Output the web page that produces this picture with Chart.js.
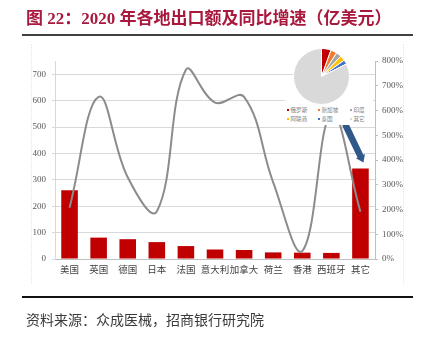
<!DOCTYPE html>
<html>
<head>
<meta charset="utf-8">
<script src="https://cdn.jsdelivr.net/npm/chart.js@4/dist/chart.umd.min.js"></script>
<style>
  html, body { margin: 0; padding: 0; background: #fff; }
  #wrap { position: relative; width: 424px; height: 337px; overflow: hidden; background: #fff; }
  #main { position: absolute; left: 0; top: 0; }
  #title { position: absolute; left: 26px; top: 4px; font: bold 17px "Liberation Serif", "Noto Sans CJK SC", serif; color: #A8193D; white-space: nowrap; letter-spacing: 0px; }
  .rule { position: absolute; left: 22px; width: 391px; height: 2px; }
  #src { position: absolute; left: 26px; top: 309px; font: 14px "Noto Sans CJK SC", sans-serif; color: #3a3a3a; white-space: nowrap; }
  #pieBox { position: absolute; left: 285px; top: 92px; width: 88px; height: 33px; background: #fff; }
  #pie { position: absolute; left: 293px; top: 48px; }
  .lg { position: absolute; font: 5.6px "Noto Sans CJK SC", sans-serif; color: #7f7f7f; white-space: nowrap; line-height: 7px; }
  .lg i { display: inline-block; width: 2px; height: 2px; margin-right: 1.5px; vertical-align: middle; }
  .dots { position: absolute; top: 44px; height: 240px; width: 0; border-left: 1px dotted #e6e6e6; }
</style>
</head>
<body>
<div id="wrap">
  <canvas id="main" width="424" height="337"></canvas>
  <div class="dots" style="left:31px"></div>
  <div class="dots" style="left:403px"></div>
  <div id="title">图 22：2020 年各地出口额及同比增速（亿美元）</div>
  <div class="rule" style="top:34px;background:#404040;"></div>
  <div class="rule" style="top:296px;background:#111;"></div>
  <div id="src">资料来源：众成医械，招商银行研究院</div>
  <div id="pieBox"></div>
  <canvas id="pie" width="57" height="57"></canvas>
  <div id="legend"></div>
</div>
<script>
// ---- data ----
const categories = ['美国','英国','德国','日本','法国','意大利','加拿大','荷兰','香港','西班牙','其它'];
const exportValues = [260, 81, 75, 64, 49, 36, 34, 25, 24, 23, 343];   // 亿美元
const growthPct = [207, 655, 330, 192, 765, 632, 655, 310, 32, 588, 191]; // 同比增速 %
const leftTicks = [0, 100, 200, 300, 400, 500, 600, 700];
const rightTicks = [0, 100, 200, 300, 400, 500, 600, 700, 800];
const pieLabels = ['俄罗斯','新加坡','印度','阿联酋','泰国','其它'];
const pieValues = [5.5, 3.6, 3.0, 3.0, 2.5, 82.4];
const pieColors = ['#C00000','#ED7D31','#A5A5A5','#FFC000','#4472C4','#D9D9D9'];

const tickFont = { family: '"Liberation Serif", serif', size: 9 };
const catFont = { family: '"Noto Sans CJK SC", sans-serif', size: 9.5 };

const arrowPlugin = {
  id: 'arrow',
  afterDatasetsDraw(chart) {
    const meta = chart.getDatasetMeta(1);
    const last = meta.data[meta.data.length - 1];
    if (!last) return;
    const ctx = chart.ctx;
    const tx = last.x + 3, ty = last.y - 6;
    const sx = tx - 17.6, sy = ty - 36.7;
    const ang = Math.atan2(ty - sy, tx - sx);
    ctx.save();
    ctx.strokeStyle = '#30598A';
    ctx.fillStyle = '#30598A';
    ctx.lineWidth = 6.5;
    ctx.lineCap = 'round';
    const hl = 7;
    ctx.beginPath();
    ctx.moveTo(sx, sy);
    ctx.lineTo(tx - hl * Math.cos(ang), ty - hl * Math.sin(ang));
    ctx.stroke();
    ctx.beginPath();
    ctx.moveTo(tx, ty);
    const bx = tx - hl * Math.cos(ang), by = ty - hl * Math.sin(ang);
    const px = -Math.sin(ang) * 5, py = Math.cos(ang) * 5;
    ctx.lineTo(bx + px, by + py);
    ctx.lineTo(bx - px, by - py);
    ctx.closePath();
    ctx.fill();
    ctx.restore();
  }
};

new Chart(document.getElementById('main'), {
  data: {
    labels: categories,
    datasets: [
      {
        type: 'line', label: '同比增速', data: growthPct, yAxisID: 'y2', order: 0,
        borderColor: '#8C8C8C', borderWidth: 2, pointRadius: 0, tension: 0.4, fill: false
      },
      {
        type: 'bar', label: '出口额', data: exportValues, yAxisID: 'y', order: 1,
        backgroundColor: '#C00000', borderWidth: 0,
        barPercentage: 0.57, categoryPercentage: 1.0
      }
    ]
  },
  options: {
    responsive: false, animation: false, devicePixelRatio: 1,
    layout: { padding: { left: 15, right: 4, top: 61, bottom: 53 } },
    plugins: { legend: { display: false }, tooltip: { enabled: false } },
    scales: {
      x: {
        grid: { display: false, drawTicks: false },
        border: { display: true, color: '#BFBFBF' },
        ticks: { font: catFont, color: '#404040', padding: 5, maxRotation: 0, autoSkip: false },
        afterFit(s) { s.height = 25; }
      },
      y: {
        position: 'left', min: 0, max: 750,
        afterBuildTicks(s) { s.ticks = leftTicks.map(v => ({ value: v })); },
        grid: { color: '#D9D9D9', lineWidth: 1, tickLength: 3, drawTicks: true },
        border: { display: true, color: '#D9D9D9' },
        ticks: { font: tickFont, color: '#595959', padding: 6 },
        afterFit(s) { s.width = 40; }
      },
      y2: {
        position: 'right', min: 0, max: 800,
        afterBuildTicks(s) { s.ticks = rightTicks.map(v => ({ value: v })); },
        grid: { drawOnChartArea: false, color: '#BFBFBF', tickLength: 3 },
        border: { display: true, color: '#BFBFBF' },
        ticks: { font: tickFont, color: '#595959', padding: 4, callback: v => v + '%' },
        afterFit(s) { s.width = 45; }
      }
    }
  },
  plugins: [arrowPlugin]
});

new Chart(document.getElementById('pie'), {
  type: 'pie',
  data: { labels: pieLabels, datasets: [{ data: pieValues, backgroundColor: pieColors, borderColor: '#fff', borderWidth: 1 }] },
  options: {
    responsive: false, animation: false, devicePixelRatio: 1,
    layout: { padding: 0 },
    plugins: { legend: { display: false }, tooltip: { enabled: false } }
  }
});

// pie legend (2 rows x 3 columns)
const legendPos = [[287, 107], [318, 107], [350, 107], [287, 116], [318, 116], [350, 116]];
const lg = document.getElementById('legend');
pieLabels.forEach((name, i) => {
  const d = document.createElement('div');
  d.className = 'lg';
  d.style.left = legendPos[i][0] + 'px';
  d.style.top = legendPos[i][1] + 'px';
  d.innerHTML = '<i style="background:' + pieColors[i] + '"></i>' + name;
  lg.appendChild(d);
});
</script>
</body>
</html>
